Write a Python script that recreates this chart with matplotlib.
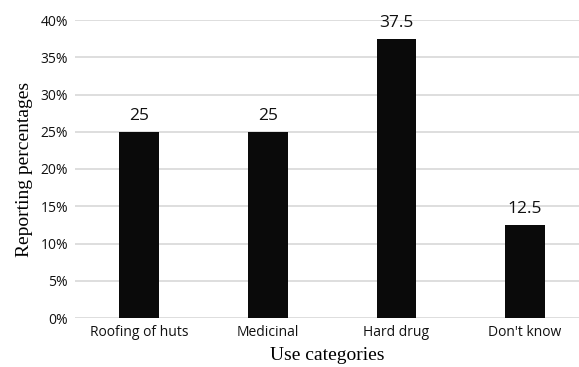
import matplotlib.pyplot as plt

categories = ['Roofing of huts', 'Medicinal', 'Hard drug', "Don't know"]
percentages = [25, 25, 37.5, 12.5]
y_ticks = [0, 5, 10, 15, 20, 25, 30, 35, 40]

fig = plt.figure(figsize=(5.79, 3.67), dpi=100)
ax = fig.add_axes([75 / 579, 1 - 318 / 367, 1 - 75 / 579, (318 - 20) / 367])

x = range(len(categories))
bars = ax.bar(x, percentages, width=0.31, color='#0a0a0a', zorder=3)

# value labels above each bar
for rect, val in zip(bars, percentages):
    ax.annotate(f'{val:g}', xy=(rect.get_x() + rect.get_width() / 2, val),
                xytext=(0, 5.5), textcoords='offset points',
                ha='center', va='bottom', fontsize=12.5, family='Open Sans', color='#111111')

ax.set_xlim(-0.5, 3.42)
ax.set_ylim(0, 40)
ax.set_yticks(y_ticks)
ax.set_yticklabels([f'{t}%' for t in y_ticks], family='Open Sans', fontsize=10)
ax.set_xticks(list(x))
ax.set_xticklabels(categories, family='Open Sans', fontsize=10)
ax.tick_params(length=0, pad=5, colors='#111111')
ax.grid(axis='y', color='#d4d4d4', linewidth=1.1, zorder=0)
for s in ax.spines.values():
    s.set_visible(False)

ax.set_xlabel('Use categories', family='Liberation Serif', fontsize=14, labelpad=5)
ax.set_ylabel('Reporting percentages', family='Liberation Serif', fontsize=14, labelpad=5)

fig.savefig('out.png', dpi=100)
